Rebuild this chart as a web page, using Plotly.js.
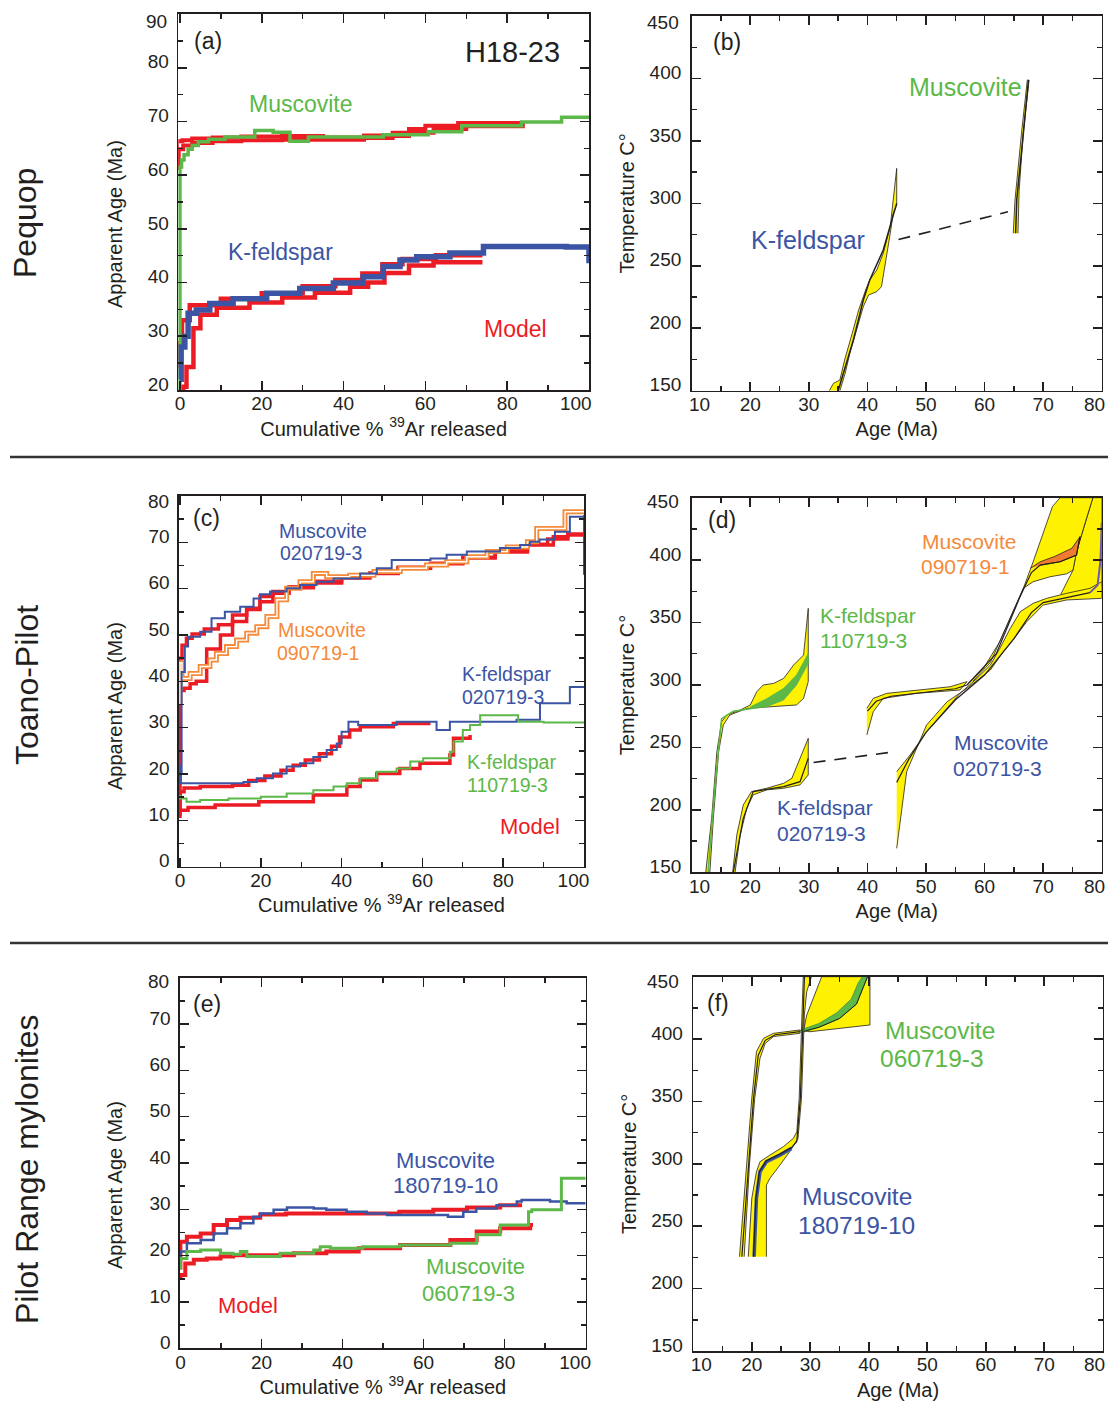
<!DOCTYPE html>
<html><head><meta charset="utf-8">
<script src="https://cdn.plot.ly/plotly-3.0.1.min.js"></script>
<style>html,body{margin:0;padding:0;background:#fff;} #chart{width:1108px;height:1401px;}</style>
</head><body><div id="chart"></div>
<script>
// ================= DATA =================
// Panel (a) – Pequop, H18-23 : age spectra (cumulative % 39Ar vs apparent age, Ma)
const aMusX = [0, 0, 0.4, 1, 2, 3, 4.5, 7, 11, 18.3, 22.8, 26.9, 31.4, 49.7, 60.7, 68.9, 83.5, 93.3, 100];
const aMusY = [20, 61.5, 62.8, 63.8, 64.8, 65.5, 66.2, 66.7, 67.1, 68.3, 68.0, 66.3, 67.1, 67.5, 68.1, 69.2, 69.9, 70.8, 70.8];
const aMusModel1X = [-0.7, -0.7, 0.6, 3, 8, 15, 25, 35, 45, 52, 56, 60, 68, 84.3];
const aMusModel1Y = [61, 66.3, 66.5, 66.8, 67.0, 67.2, 67.3, 67.0, 67.4, 67.9, 68.6, 69.2, 69.7, 69.7];
const aMusModel2X = [-0.3, -0.3, 0.8, 3, 8, 15, 25, 35, 45, 52, 56, 62, 70, 84.3];
const aMusModel2Y = [61, 64.8, 65.5, 66.0, 66.3, 66.5, 66.6, 66.6, 66.9, 67.3, 67.9, 68.6, 69.1, 69.1];
const aKfsX = [0, 0.3, 1.2, 2, 4, 7.3, 13, 21.2, 29.3, 37.5, 44.8, 49.7, 53.8, 57.9, 66, 74.2, 94.5, 100, 100];
const aKfsY = [22, 28, 30, 34.3, 34.9, 36.1, 37.0, 38.0, 38.9, 39.9, 41.1, 43.0, 44.2, 44.8, 45.5, 46.7, 46.6, 46.5, 43.6];
const aKfsModel1X = [-0.8, -0.8, 0.5, 2.4, 10, 20, 30, 38, 44.6, 49.5, 54.4, 62.6, 73.4];
const aKfsModel1Y = [24, 28.7, 33, 35.8, 37.0, 38.0, 39.3, 40.5, 41.7, 43.4, 44.4, 45.1, 45.6];
const aKfsModel2X = [0.8, 0.8, 1.6, 3.3, 5, 9, 17, 25, 33, 41.6, 46, 50, 56, 62, 73.4];
const aKfsModel2Y = [20, 20.6, 24.3, 31.5, 34.0, 35.3, 36.3, 37.2, 38.1, 39.2, 40.0, 41.8, 43.2, 43.8, 44.2];

// Panel (b) – Pequop thermal history (age Ma vs temperature °C)
const bKfsEnvX = [33.5, 34.2, 35.3, 36.1, 37.4, 38.5, 39.7, 40.4, 41.6, 42.7, 43.9, 44.7, 45, 45, 44.4, 43.9, 43, 42.4, 41.6, 40.2, 39.3, 38.2, 37, 36.2, 35.3];
const bKfsEnvY = [150, 155.9, 158.5, 174.5, 195.9, 214.6, 230.6, 238.6, 246.6, 260, 281.3, 313.3, 328, 298.7, 292, 276, 249.3, 233.3, 229.3, 226.6, 217.3, 198.6, 179.9, 163.9, 150];
const bKfsMedX = [35, 36.2, 37.6, 39.3, 40.4, 42.7, 45];
const bKfsMedY = [150, 169, 190.6, 222.6, 238.6, 262.6, 300];
const bLinkX = [45.3, 64];
const bLinkY = [271, 293.3];
const bMusEnvX = [64.9, 65.2, 66.3, 67.3, 67.6, 66.6, 65.9, 65.7];
const bMusEnvY = [276, 302.7, 356, 398.7, 398.7, 356, 310, 276];
const bMusMedX = [65.3, 65.5, 66.5, 67.5];
const bMusMedY = [276, 303, 350, 398.7];

// Panel (c) – Toano-Pilot age spectra
const cMus1X = [0, 0, 0.4, 1.2, 2, 5, 7.8, 11.1, 14.9, 18.2, 19.8, 22.3, 26.4, 29.7, 33.8, 38, 44.6, 48.7, 52.4, 62, 66, 71, 79.2, 84.2, 86.6, 89, 92.8, 96.5, 100, 100];
const cMus1Y = [18, 20, 42, 47.5, 49.6, 50.7, 53.6, 55, 56.1, 57.9, 58.8, 59.4, 60.1, 60.8, 61.5, 62.2, 63.3, 64.4, 66.2, 66.5, 67.3, 68, 68.8, 69.4, 70.1, 70.6, 72.3, 75.5, 75.9, 63];
const cMus2X = [0, 0, 0.5, 1, 2.5, 5, 7.4, 9, 11.5, 14, 16.5, 19, 21.5, 24, 26.4, 29.7, 33, 36.3, 42, 48, 54.5, 61, 66, 71, 76, 81, 86, 88.3, 95.3, 100];
const cMus2Y = [35, 44, 40.6, 40.6, 41.7, 43.2, 44.6, 46, 47.5, 48.9, 50.4, 51.8, 54, 57.6, 60.1, 61.5, 63.3, 62.6, 62.9, 63.7, 64.4, 65.1, 65.8, 66.9, 68, 69, 70.1, 73, 76.6, 76.6];
const cMusModel1X = [0, 0, 0.5, 1.6, 3, 6, 9.5, 13, 16.5, 19.8, 23, 27, 33, 40, 47, 54, 62, 70, 78, 86, 91, 96, 100];
const cMusModel1Y = [30, 45, 47.8, 49.3, 50.2, 51.3, 52.2, 54.3, 55.5, 57.2, 59, 60.2, 61.2, 62.3, 63.3, 64.6, 65.5, 66.8, 68.2, 69.6, 70.7, 71.6, 71.6];
const cMusModel2X = [0, 0, 1, 2.5, 4, 6.6, 10, 13, 16.5, 19.8, 23, 27, 33, 40, 47, 54, 62, 70, 78, 86, 92.4, 96, 100];
const cMusModel2Y = [12, 38, 38.5, 39.5, 40, 47, 50, 52.9, 55.8, 58.3, 59.4, 60.4, 61.6, 62.6, 63.4, 64.4, 65.4, 66.6, 67.9, 69.4, 71.2, 71.8, 71.8];
const cKfs1X = [0, 0, 0.2, 13.2, 15.7, 19, 23, 26.4, 29.7, 33, 36.3, 38.8, 40, 41.7, 44.1, 53.6, 62.3, 63.5, 66.8, 83.3, 89.1, 96.5, 100];
const cKfs1Y = [22, 19.8, 18, 18, 18.3, 19.1, 20.1, 21.6, 22.3, 23.7, 25.2, 26.6, 29.1, 31.3, 30.6, 31.3, 31.3, 29.5, 31.3, 31.7, 35.3, 38.8, 38.8];
const cKfsModel1X = [0, 0, 1, 5, 13, 17, 21, 25, 28, 31, 34.5, 37.5, 39.5, 42, 44.6, 52.8, 62];
const cKfsModel1Y = [11, 16.2, 17.0, 17.3, 17.6, 18.6, 19.6, 20.8, 21.9, 23.0, 24.4, 26.0, 28.0, 29.5, 30.2, 30.9, 30.9];
const cKfs2X = [0, 0, 1.6, 5, 12, 20, 26.4, 33, 38, 41.3, 44.6, 48.7, 53.6, 57, 60.2, 66.8, 67.7, 70, 71.8, 74.3, 83.7, 90, 100];
const cKfs2Y = [15.5, 14.7, 14.0, 14.4, 14.7, 15.1, 15.8, 16.5, 17.3, 18.0, 19.1, 20.5, 21.2, 22.7, 23.4, 24.8, 27.0, 29.5, 30.6, 32.7, 31.3, 31.1, 30.9];
const cKfsModel2X = [0, 0, 2, 8.7, 19.5, 33, 41.3, 44.6, 48.7, 54.4, 59.4, 66.8, 67.7, 71.8];
const cKfsModel2Y = [10.5, 12.2, 12.8, 13.3, 14.0, 15.5, 17.3, 18.7, 20.1, 21.2, 22.3, 24.1, 27.7, 28.4];

// Panel (d) – Toano-Pilot thermal histories
const dK1EnvX = [12.4, 13.4, 14.3, 15.1, 16, 18.3, 20, 21.1, 22.2, 24, 25.7, 27.4, 29.1, 29.9, 29.9, 29.1, 27.9, 24, 19.5, 16.5, 15.4, 14.6, 13.7, 13.1];
const dK1EnvY = [150, 193.2, 246.6, 270.6, 276, 280, 284, 294.6, 300, 301.3, 305.3, 316, 324, 361.4, 302.7, 289.3, 284, 282.6, 281.3, 276, 268, 246.6, 193.2, 150];
const dK1BandX = [20, 22.8, 25.7, 27.9, 29.9, 29.9, 27.9, 25.7, 22.8, 20];
const dK1BandY = [282.4, 289, 297.3, 308, 325.3, 317.3, 300, 288, 282.6, 280.8];
const dK1LineX = [12.8, 14, 15.1, 17.1, 20];
const dK1LineY = [150, 220, 273, 279, 281];
const dK2EnvX = [17, 17.7, 18.8, 20.2, 22.8, 25.7, 27.1, 28.5, 29.9, 29.9, 28.5, 25.7, 22.8, 20.5, 19.4, 18.3, 17.4];
const dK2EnvY = [150, 179.9, 203.9, 214.6, 217.3, 221.3, 225.3, 241.3, 257.3, 228, 220, 217.3, 216, 212, 201.3, 179.9, 150];
const dK2MedX = [17.1, 18.8, 20.5, 25.7, 28.5, 29.9];
const dK2MedY = [150, 193.2, 214.6, 218.6, 222.6, 241.3];
const dLinkX = [30.8, 44.7];
const dLinkY = [238, 246.6];
const dM1EnvX = [39.9, 41, 43.3, 48.4, 54.1, 57, 55.8, 48.4, 42.7, 41, 39.9];
const dM1EnvY = [281.3, 289.3, 293.3, 296, 298.6, 302.7, 296, 293.3, 289.3, 278.6, 260];
const dM1MedX = [40, 41.5, 44, 50, 55, 57];
const dM1MedY = [279, 287, 291, 294, 297, 300];
const dM2EnvX = [45, 47.3, 50.1, 53, 55.8, 58.7, 61, 62.6, 64.4, 66.1, 68.3, 70.6, 74, 78, 80, 80, 74, 70, 68.3, 67.2, 65.5, 63.2, 61, 57, 53.6, 50.1, 46.7, 45];
const dM2EnvY = [230.6, 244, 262.6, 278.6, 293.3, 305.3, 316, 329.3, 345.4, 358.7, 365.4, 369.4, 373.4, 377.4, 382.7, 369.4, 368.1, 364, 356, 350.7, 340, 326.7, 312, 297.3, 286.6, 268, 230.6, 169.2];
const dM2MedX = [45, 47, 50, 55, 60, 65, 68, 70, 75, 78];
const dM2MedY = [222, 240, 262, 288, 308, 337, 358, 366, 371, 374];
const dM2TailX = [78, 79.3, 79.8, 80];
const dM2TailY = [374, 380, 400, 430];
const dM3EnvX = [57, 59.8, 62.6, 64.9, 66.4, 68.3, 70.4, 71.6, 72.9, 78.5, 77.4, 75.7, 75.1, 74, 71.2, 68.3, 66.6, 64, 61, 58];
const dM3EnvY = [300, 313.3, 334.7, 358.7, 374.7, 398.7, 428, 443, 450, 450, 433.4, 406.7, 392, 389, 386.7, 382.7, 377.4, 350, 318, 303];
const dM4EnvX = [73, 75.1, 75.7, 77.4, 78.5, 80, 80, 78, 75];
const dM4EnvY = [372.5, 392, 406.7, 433.4, 450, 450, 380, 376, 373.5];
const dOrBandX = [67.8, 69.5, 72, 74.9, 76.3, 75.7, 72.9, 69.5];
const dOrBandY = [393.4, 398.7, 403, 409.5, 418.8, 404, 398.7, 396];
const dM3MedX = [57, 62, 66, 68, 69.5, 72.9, 75.7, 76.3];
const dM3MedY = [300, 325, 370, 390, 396, 398.7, 404, 418.8];

// Panel (e) – Pilot Range mylonites age spectra
const eMus1X = [0, 0, 1.6, 5, 8.2, 11.5, 14.8, 18, 19.7, 23, 26.3, 32.9, 36, 41, 46, 51, 62, 66, 69.8, 73, 78, 83, 84.2, 91.2, 95.3, 100];
const eMus1Y = [19.4, 20.9, 22.7, 23.4, 24.8, 25.9, 27, 28.4, 29.1, 29.9, 30.4, 30.2, 29.9, 29.5, 29.1, 28.8, 28.8, 28.4, 29.5, 30.2, 30.9, 31.7, 32.0, 31.7, 31.3, 31.3];
const eMusModel1X = [0, 0, 1.6, 5, 8.2, 11.5, 14.8, 19.7, 26, 46, 54, 62.4, 70.7, 78.9, 83.8];
const eMusModel1Y = [17, 23, 24.1, 24.8, 26.6, 27.7, 28.2, 28.9, 29.1, 29.1, 29.5, 29.9, 30.4, 30.9, 31.3];
const eMus2X = [0, 0, 1.6, 5, 9.9, 13, 14.8, 16.4, 24.6, 32.9, 34.5, 37, 45, 54.2, 66.6, 73.1, 78.9, 85.9, 86.7, 94, 100];
const eMus2Y = [17, 19.4, 20.9, 21.2, 20.5, 20.3, 20.9, 19.8, 20.5, 21.2, 21.9, 21.6, 21.9, 22.3, 22.7, 24.5, 26.6, 29.5, 29.9, 36.7, 36.7];
const eMusModel2X = [0, 0, 1.2, 3.3, 6.5, 9.9, 13, 20, 28, 36, 44, 54.2, 66.6, 73.1, 78.9, 86.3, 87];
const eMusModel2Y = [15, 15.8, 18.3, 19.1, 19.4, 19.8, 20.1, 20.1, 20.5, 20.9, 21.6, 22.3, 23.4, 25.2, 25.9, 26.6, 26.6];

// Panel (f) – Pilot Range mylonites thermal histories
const fM1EnvX = [17.9, 19.1, 20, 20.8, 22, 23.7, 28.2, 28.2, 23.7, 22.3, 21.4, 20.5, 19.6, 18.7];
const fM1EnvY = [225.6, 299, 352.5, 390, 400.6, 404.6, 407.3, 404.6, 402, 396.6, 384.6, 352.5, 299, 225.6];
const fM1MedX = [18.3, 19.4, 20.3, 21.1, 22.3, 24, 28.2];
const fM1MedY = [225.6, 299, 352.5, 387, 399, 403.5, 406];
const fM2EnvX = [19.4, 20, 20.8, 21.4, 23.1, 25.4, 27.1, 27.7, 28.1, 28.5, 28.8, 30.2, 29.4, 29.0, 28.9, 28.5, 27.9, 26.5, 24.8, 23.1, 22.5, 22.5];
const fM2EnvY = [225.6, 272.4, 293.7, 301.7, 307, 313.8, 320.4, 325.8, 352.5, 406, 450, 450, 438, 420, 406, 352.5, 320.4, 309.8, 299, 288.4, 283, 225.6];
const fM2BlueX = [20.4, 20.8, 21.4, 22.5, 24.8, 26.8];
const fM2BlueY = [225.6, 272.4, 293.7, 301.7, 307, 312.4];
const fM2MedX = [20.3, 20.7, 21.3, 22.5, 24.8, 26.8, 27.7, 28.3, 28.7, 29.0];
const fM2MedY = [225.6, 272.4, 293.7, 302.5, 307.8, 313, 318, 352.5, 406, 450];
const fM3EnvX = [28.9, 29.4, 31.95, 40.2, 40.2, 29.95, 28.9];
const fM3EnvY = [408, 419.3, 450, 450, 411.3, 405.9, 406.5];
const fGreenBandX = [28.2, 31.5, 34.5, 37, 38.2, 38.9, 39.8, 39.1, 37.9, 35, 31.5, 28.5];
const fGreenBandY = [407, 412.5, 421, 432, 445, 450, 450, 442, 428, 416.5, 409.5, 405];
const fM3MedX = [28.3, 31.5, 35, 37.9, 39.1, 39.8];
const fM3MedY = [405.5, 409.5, 416.5, 428, 442, 450];

// Tick labels (the last value of each list sits in a frame corner)
const spectrumTicks = [0, 20, 40, 60, 80, 100];
const ageTicks = [10, 20, 30, 40, 50, 60, 70, 80];
const tempTicks = [150, 200, 250, 300, 350, 400, 450];
const ageTicksA = [20, 30, 40, 50, 60, 70, 80, 90];
const ageTicksCE = [0, 10, 20, 30, 40, 50, 60, 70, 80];

// ================= STYLE =================
const FONT = 'Liberation Sans, Arial, Helvetica, sans-serif';
const GREEN = '#5cb848', RED = '#ec1c24', BLUE = '#3b54a4', ORANGE = '#f48a3a',
      YELLOW = '#fff200', INK = '#231f20', ORBAND = '#f07a30', PURPLE = '#6a5aa8';
const W = 1108, H = 1401;
const NB = '\u00a0';

const traces = [];
function step(x, y, color, width, n) {
  traces.push({type: 'scatter', mode: 'lines', x: x, y: y, xaxis: 'x' + n, yaxis: 'y' + n,
    line: {shape: 'hv', color: color, width: width}, hoverinfo: 'skip', showlegend: false});
}
function line(x, y, color, width, n, dash) {
  traces.push({type: 'scatter', mode: 'lines', x: x, y: y, xaxis: 'x' + n, yaxis: 'y' + n,
    line: {color: color, width: width, dash: dash || 'solid'}, hoverinfo: 'skip', showlegend: false});
}
function poly(x, y, fill, n, edge) {
  traces.push({type: 'scatter', mode: 'lines', x: x, y: y, xaxis: 'x' + n, yaxis: 'y' + n,
    fill: 'toself', fillcolor: fill, line: {color: edge || INK, width: 0.8},
    hoverinfo: 'skip', showlegend: false});
}

// (a)
step(aMusModel1X, aMusModel1Y, RED, 4, '');
step(aMusModel2X, aMusModel2Y, RED, 4, '');
step(aKfsModel1X, aKfsModel1Y, RED, 4.5, '');
step(aKfsModel2X, aKfsModel2Y, RED, 4.5, '');
step(aMusX, aMusY, GREEN, 3.5, '');
step(aKfsX, aKfsY, BLUE, 5.5, '');
// (b)
poly(bKfsEnvX, bKfsEnvY, YELLOW, 2);
line(bKfsMedX, bKfsMedY, INK, 1.5, 2);
line(bLinkX, bLinkY, INK, 1.6, 2, '12px,9px');
poly(bMusEnvX, bMusEnvY, YELLOW, 2);
line(bMusMedX, bMusMedY, INK, 1.5, 2);
// (c)
step(cMusModel1X, cMusModel1Y, RED, 3.5, 3);
step(cMusModel2X, cMusModel2Y, RED, 3.5, 3);
step(cKfsModel1X, cKfsModel1Y, RED, 3.5, 3);
step(cKfsModel2X, cKfsModel2Y, RED, 3.5, 3);
step(cMus2X, cMus2Y, ORANGE, 5, 3);
step(cMus2X, cMus2Y, '#ffffff', 1.4, 3);
step(cMus1X, cMus1Y, BLUE, 2, 3);
step(cKfs1X, cKfs1Y, BLUE, 2, 3);
step(cKfs2X, cKfs2Y, GREEN, 2, 3);
// (d)
poly(dM4EnvX, dM4EnvY, YELLOW, 4);
poly(dM3EnvX, dM3EnvY, YELLOW, 4);
poly(dOrBandX, dOrBandY, ORBAND, 4);
poly(dM2EnvX, dM2EnvY, YELLOW, 4);
poly(dM1EnvX, dM1EnvY, YELLOW, 4);
line(dM3MedX, dM3MedY, INK, 1.2, 4);
line(dM2MedX, dM2MedY, INK, 1.2, 4);
line(dM2TailX, dM2TailY, PURPLE, 2, 4);
line(dM1MedX, dM1MedY, INK, 1.2, 4);
poly(dK1EnvX, dK1EnvY, YELLOW, 4);
poly(dK1BandX, dK1BandY, GREEN, 4, GREEN);
line(dK1LineX, dK1LineY, GREEN, 1.5, 4);
poly(dK2EnvX, dK2EnvY, YELLOW, 4);
line(dK2MedX, dK2MedY, INK, 1.2, 4);
line(dLinkX, dLinkY, INK, 1.6, 4, '12px,9px');
// (e)
step(eMusModel1X, eMusModel1Y, RED, 4, 5);
step(eMusModel2X, eMusModel2Y, RED, 4, 5);
step(eMus1X, eMus1Y, BLUE, 2.5, 5);
step(eMus2X, eMus2Y, GREEN, 3, 5);
// (f)
poly(fM3EnvX, fM3EnvY, YELLOW, 6);
poly(fGreenBandX, fGreenBandY, GREEN, 6, '#3f8f35');
line(fM3MedX, fM3MedY, INK, 1, 6);
poly(fM2EnvX, fM2EnvY, YELLOW, 6);
line(fM2BlueX, fM2BlueY, BLUE, 3.5, 6);
line(fM2MedX, fM2MedY, INK, 1.2, 6);
poly(fM1EnvX, fM1EnvY, YELLOW, 6);
line(fM1MedX, fM1MedY, INK, 1.2, 6);

// ================= LAYOUT =================
const pX = v => v / W;
const pY = v => 1 - v / H;
const tickFont = {family: FONT, size: 19, color: INK};
const titleFont = {family: FONT, size: 20, color: INK};
const allButLast = vals => vals.slice(0, vals.length - 1);
const last = vals => vals[vals.length - 1];

function baseAxis(extra) {
  return Object.assign({
    showline: true, linecolor: INK, linewidth: 1.6, mirror: 'ticks',
    ticks: 'inside', ticklen: 9, tickwidth: 1.6, tickcolor: INK,
    showgrid: false, zeroline: false, fixedrange: true,
    tickfont: tickFont, tickmode: 'array', ticklabeloverflow: 'allow'
  }, extra);
}
function xSpec(dom, range, anchor, lastPad) {
  return baseAxis({domain: dom, range: range, anchor: anchor,
    tickvals: spectrumTicks, ticklabelstandoff: -4,
    ticktext: spectrumTicks.map((v, i) => i === spectrumTicks.length - 1 ? String(v) + NB.repeat(lastPad) : String(v)),
    minor: {ticks: 'inside', ticklen: 5, tickwidth: 1.4, tickcolor: INK, dtick: 10, tick0: 0},
    title: {text: 'Cumulative % <sup>39</sup>Ar released', font: titleFont, standoff: 2}});
}
function ySpec(dom, range, anchor, vals) {
  const v = allButLast(vals);
  return baseAxis({domain: dom, range: range, anchor: anchor,
    tickvals: v, ticktext: v.map(String), ticklabelshift: -6, ticklabelstandoff: 4,
    minor: {ticks: 'inside', ticklen: 5, tickwidth: 1.4, tickcolor: INK, dtick: 5, tick0: 0}});
}
function xAge(dom, anchor) {
  const v = allButLast(ageTicks);
  return baseAxis({domain: dom, range: [10, 80], anchor: anchor, ticklabelstandoff: -4,
    tickvals: v, ticktext: v.map((t, i) => i === 0 ? NB.repeat(3) + t : String(t)),
    minor: {ticks: 'inside', ticklen: 5, tickwidth: 1.4, tickcolor: INK, dtick: 5, tick0: 0},
    title: {text: 'Age (Ma)', font: titleFont, standoff: 8}});
}
function yTemp(dom, anchor) {
  const v = allButLast(tempTicks);
  return baseAxis({domain: dom, range: [150, 450], anchor: anchor,
    tickvals: v, ticktext: v.map(String), ticklabelshift: -6, ticklabelstandoff: 5,
    minor: {ticks: 'inside', ticklen: 5, tickwidth: 1.4, tickcolor: INK, dtick: 25, tick0: 0},
    title: {text: 'Temperature C°', font: titleFont, standoff: 9}});
}

const annotations = [];
function ann(text, x, y, color, size, angle, xanchor) {
  annotations.push({text: text, xref: 'paper', yref: 'paper', x: pX(x), y: pY(y),
    xanchor: xanchor || 'center', yanchor: 'middle', showarrow: false, textangle: angle || 0,
    font: {family: FONT, size: size, color: color}});
}
// row labels
ann('Pequop', 25, 223, INK, 32, -90);
ann('Toano-Pilot', 27, 685, INK, 32, -90);
ann('Pilot Range mylonites', 27, 1170, INK, 32, -90);
// y-axis titles of the age-spectrum panels (set lower along the axis, as in the figure)
ann('Apparent Age (Ma)', 115, 224, INK, 20, -90);
ann('Apparent Age (Ma)', 115, 706, INK, 20, -90);
ann('Apparent Age (Ma)', 115, 1185, INK, 20, -90);
// end tick labels that sit inside the frame corners
ann(String(last(ageTicksA)), 169, 21.7, INK, 19, 0, 'right');
ann(String(last(tempTicks)), 681, 22.7, INK, 19, 0, 'right');
ann(String(last(ageTicksCE)), 170.5, 501.7, INK, 19, 0, 'right');
ann(String(last(tempTicks)), 681, 501.7, INK, 19, 0, 'right');
ann(String(last(ageTicksCE)), 171, 981.7, INK, 19, 0, 'right');
ann(String(last(tempTicks)), 681, 981.7, INK, 19, 0, 'right');
ann(String(last(ageTicks)), 1094, 404, INK, 19);
ann(String(last(ageTicks)), 1094, 886, INK, 19);
ann(String(last(ageTicks)), 1094, 1364, INK, 19);
// (a)
ann('(a)', 208.3, 40.7, INK, 23);
ann('H18-23', 512.3, 51.7, INK, 29);
ann('Muscovite', 300.7, 104, GREEN, 23);
ann('K-feldspar', 280, 251.7, BLUE, 23);
ann('Model', 515, 329.3, RED, 23);
// (b)
ann('(b)', 726.7, 41.7, INK, 23);
ann('Muscovite', 965.7, 86.7, GREEN, 25);
ann('K-feldspar', 808.3, 240, BLUE, 25);
// (c)
ann('(c)', 206.7, 518.3, INK, 23);
ann('Muscovite', 323.3, 530.7, BLUE, 19.5);
ann('020719-3', 320.7, 553.3, BLUE, 19.5);
ann('Muscovite', 321.7, 630, ORANGE, 19.5);
ann('090719-1', 318.3, 652.7, ORANGE, 19.5);
ann('K-feldspar', 506, 674, BLUE, 19.5);
ann('020719-3', 503.3, 696.7, BLUE, 19.5);
ann('K-feldspar', 511.7, 761.7, GREEN, 19.5);
ann('110719-3', 507.3, 785, GREEN, 19.5);
ann('Model', 530, 826.7, RED, 22);
// (d)
ann('(d)', 721.7, 520, INK, 23);
ann('Muscovite', 969.3, 541.7, ORANGE, 21);
ann('090719-1', 965, 566.7, ORANGE, 21);
ann('K-feldspar', 868.3, 615, GREEN, 21);
ann('110719-3', 863.3, 640, GREEN, 21);
ann('Muscovite', 1001, 742.7, BLUE, 21);
ann('020719-3', 997.7, 768.3, BLUE, 21);
ann('K-feldspar', 825, 807.7, BLUE, 21);
ann('020719-3', 821.7, 833.3, BLUE, 21);
// (e)
ann('(e)', 206.7, 1004.3, INK, 23);
ann('Muscovite', 445, 1160, BLUE, 22);
ann('180719-10', 445, 1185.7, BLUE, 22);
ann('Muscovite', 475, 1266.7, GREEN, 22);
ann('060719-3', 468.3, 1293.3, GREEN, 22);
ann('Model', 248.3, 1305.7, RED, 22);
// (f)
ann('(f)', 718.3, 1003.3, INK, 23);
ann('Muscovite', 940, 1030, GREEN, 24.5);
ann('060719-3', 932.3, 1058.3, GREEN, 24.5);
ann('Muscovite', 856.7, 1196, BLUE, 24.5);
ann('180719-10', 856.7, 1225, BLUE, 24.5);

const shapes = [457, 943].map(yy => ({type: 'line', xref: 'paper', yref: 'paper',
  x0: pX(10), x1: 1, y0: pY(yy), y1: pY(yy), line: {color: '#333333', width: 2.5}}));

const layout = {
  width: W, height: H, margin: {l: 0, r: 0, t: 0, b: 0},
  paper_bgcolor: '#ffffff', plot_bgcolor: '#ffffff', showlegend: false,
  font: {family: FONT, color: INK},
  xaxis:  xSpec([pX(178.3), pX(589)], [-0.4, 100], 'y', 5),
  yaxis:  ySpec([pY(390), pY(14)], [20, 90], 'x', ageTicksA),
  xaxis2: xAge([pX(691.7), pX(1101.7)], 'y2'),
  yaxis2: yTemp([pY(390.7), pY(16)], 'x2'),
  xaxis3: xSpec([pX(179), pX(584)], [-0.25, 100], 'y3', 4),
  yaxis3: ySpec([pY(866.7), pY(496)], [0, 80], 'x3', ageTicksCE),
  xaxis4: xAge([pX(691.7), pX(1101.7)], 'y4'),
  yaxis4: yTemp([pY(872.3), pY(497.7)], 'x4'),
  xaxis5: xSpec([pX(180), pX(585.7)], [-0.1, 100], 'y5', 4),
  yaxis5: ySpec([pY(1348.3), pY(977.7)], [0, 80], 'x5', ageTicksCE),
  xaxis6: xAge([pX(693.3), pX(1102.7)], 'y6'),
  yaxis6: yTemp([pY(1351), pY(976.7)], 'x6'),
  annotations: annotations, shapes: shapes
};

Plotly.newPlot('chart', traces, layout, {displayModeBar: false, staticPlot: true});
</script></body></html>
